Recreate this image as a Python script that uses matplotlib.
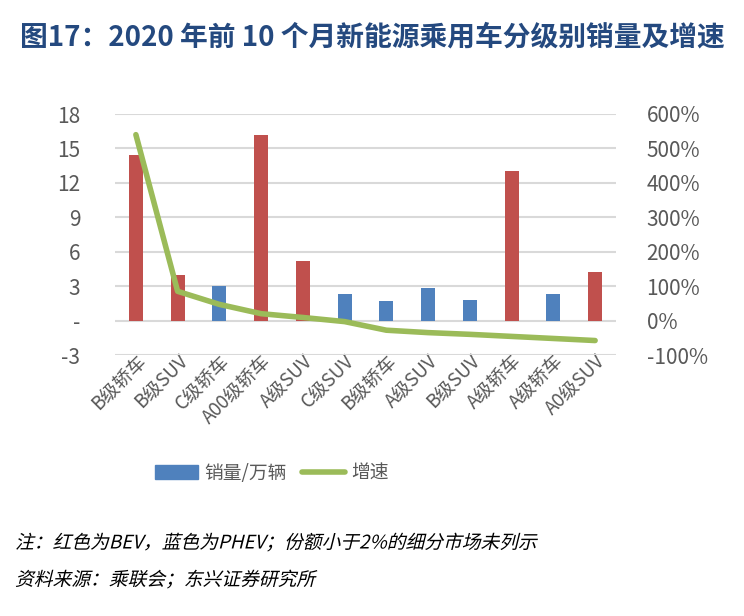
import matplotlib.pyplot as plt
from matplotlib.patches import Patch
from matplotlib.lines import Line2D
from matplotlib.patheffects import AbstractPathEffect
from matplotlib.transforms import Affine2D

plt.rcParams['font.family'] = ['Noto Sans CJK SC', 'DejaVu Sans']

# 数据
categories = ['B级轿车', 'B级SUV', 'C级轿车', 'A00级轿车', 'A级SUV', 'C级SUV',
              'B级轿车', 'A级SUV', 'B级SUV', 'A级轿车', 'A级轿车', 'A0级SUV']
sales = [14.4, 4.0, 3.0, 16.2, 5.2, 2.3, 1.7, 2.8, 1.8, 13.0, 2.3, 4.2]
types = ['BEV', 'BEV', 'PHEV', 'BEV', 'BEV', 'PHEV', 'PHEV', 'PHEV', 'PHEV', 'BEV', 'PHEV', 'BEV']
growth = [540, 85, 47, 20, 9, -3, -28, -35, -40, -46, -52, -58]

left_ticks = [-3, 0, 3, 6, 9, 12, 15, 18]
left_labels = ['-3', '-', '3', '6', '9', '12', '15', '18']
right_ticks = [-100, 0, 100, 200, 300, 400, 500, 600]

RED = '#C0504D'
BLUE = '#4F81BD'
GREEN = '#9BBB59'
GREY = '#595959'


class Slant(AbstractPathEffect):
    # 中文字体没有斜体，用错切模拟
    def draw_path(self, renderer, gc, tpath, affine, rgbFace=None):
        renderer.draw_path(gc, tpath, Affine2D().skew_deg(14, 0) + affine, rgbFace)


fig = plt.figure(figsize=(7.44, 6.16), dpi=100)
ax = fig.add_axes([115 / 744, 1 - 355 / 616, 501 / 744, 241 / 616])

x = list(range(len(categories)))
colors = [RED if t == 'BEV' else BLUE for t in types]
ax.bar(x, sales, width=0.33, color=colors, zorder=2)
ax.set_xlim(-0.5, len(categories) - 0.5)
ax.set_ylim(-3, 18)
ax.set_yticks(left_ticks)
ax.set_yticklabels(left_labels)
ax.grid(axis='y', color='#D9D9D9', linewidth=1.5, zorder=0)
ax.set_axisbelow(True)
for s in ax.spines.values():
    s.set_visible(False)
ax.tick_params(axis='both', length=0, colors=GREY, labelsize=15)
ax.tick_params(axis='y', pad=25)
ax.set_xticks(x)
ax.set_xticklabels(categories, rotation=45, ha='right', rotation_mode='anchor',
                   fontsize=13.5, color=GREY)
ax.tick_params(axis='x', pad=-3)

ax2 = ax.twinx()
ax2.plot(x, growth, color=GREEN, linewidth=4, solid_capstyle='round', zorder=3)
ax2.set_ylim(-100, 600)
ax2.set_yticks(right_ticks)
ax2.set_yticklabels([f'{v}%' for v in right_ticks])
for s in ax2.spines.values():
    s.set_visible(False)
ax2.tick_params(axis='y', length=0, colors=GREY, labelsize=15, pad=22)

handles = [Patch(color=BLUE), Line2D([0], [0], color=GREEN, linewidth=4, solid_capstyle='round')]
fig.legend(handles, ['销量/万辆', '增速'], loc='center', bbox_to_anchor=(272 / 744, 1 - 473 / 616),
           ncol=2, frameon=False, fontsize=13.5, labelcolor=GREY, handlelength=2.3,
           handleheight=0.75, columnspacing=0.8, handletextpad=0.35)

fig.text(0.5, 1 - 38 / 616, '图17：2020 年前 10 个月新能源乘用车分级别销量及增速',
         ha='center', va='center', fontsize=20, fontweight='bold', color='#24497F')

notes = ['注：红色为BEV，蓝色为PHEV；份额小于2%的细分市场未列示',
         '资料来源：乘联会；东兴证券研究所']
for yy, txt in zip([543, 580], notes):
    fig.text(15 / 744, 1 - yy / 616, txt, ha='left', va='center', fontsize=13.5,
             color='black', path_effects=[Slant()])

fig.savefig('out.png', dpi=100)
